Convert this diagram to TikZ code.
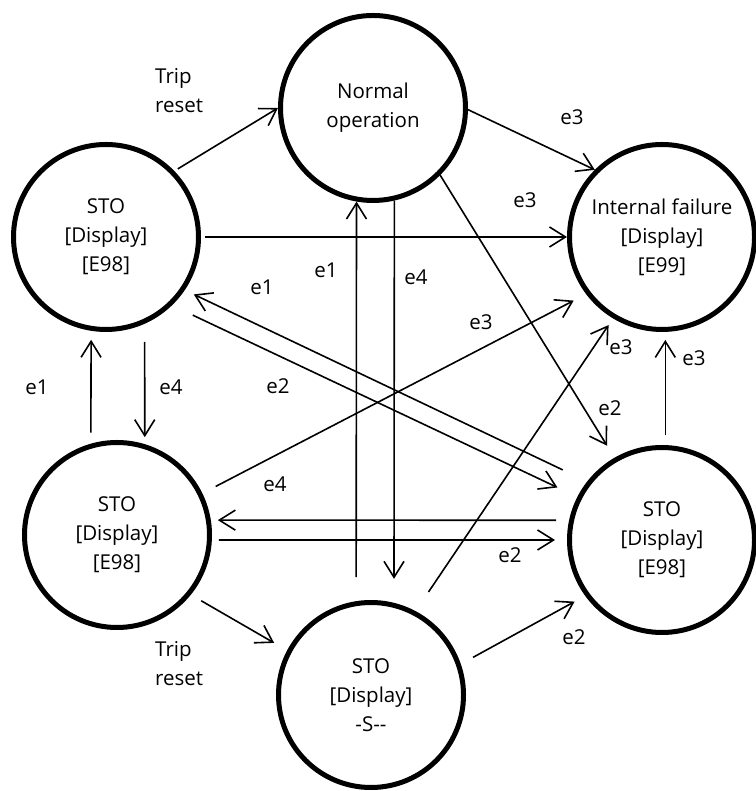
\documentclass[tikz,border=0pt]{standalone}
\usepackage{fontspec}
\setmainfont{Open Sans}
\usetikzlibrary{arrows.meta}
\begin{document}
\begin{tikzpicture}[x=1pt, y=1pt, >={Straight Barb[length=16pt,width=20pt]},
    state/.style={circle, draw, line width=5pt, minimum size=185pt, inner sep=0pt,
        align=center, font=\fontsize{20.5}{29}\selectfont},
    lbl/.style={inner sep=0pt, font=\fontsize{20.5}{29}\selectfont},
    conn/.style={->, line width=1.6pt}]
    \useasboundingbox (0,0) rectangle (755,791);

    \node[state] (N)  at (373,683) {Normal\\operation};
    \node[state] (TL) at (106,554) {STO\\{[Display]}\\{[E98]}};
    \node[state] (IF) at (662,554) {Internal failure\\{[Display]}\\{[E99]}};
    \node[state] (BL) at (117,256) {STO\\{[Display]}\\{[E98]}};
    \node[state] (R)  at (662,251) {STO\\{[Display]}\\{[E98]}};
    \node[state] (B)  at (371,96)  {STO\\{[Display]}\\-S-{}-};

    \draw[conn, shorten <=4pt] (TL.44) -- (N.180);
    \draw[conn] (N.-1) -- (IF.135);
    \draw[conn, shorten <=4pt] (TL.0) -- (IF.180);
    \draw[conn, shorten <=24pt] (B.99) -- (N.260);
    \draw[conn, shorten >=24pt] (N.283) -- (B.76);
    \draw[conn, shorten >=14pt] (N.-45) -- (R.120);
    \draw[conn, shorten <=27pt, shorten >=10pt] (R.142) -- (TL.-34);
    \draw[conn, shorten <=23pt, shorten >=22pt] (TL.-46) -- (R.153);
    \draw[conn, shorten <=15pt, shorten >=14pt] (BL.26) -- (IF.217);
    \draw[conn, shorten <=23pt, shorten >=8pt] (B.62) -- (IF.239);
    \draw[conn, shorten <=10pt, shorten >=8pt] (R.88) -- (IF.272);
    \draw[conn, shorten <=11pt, shorten >=9pt] (BL.106) -- (TL.261);
    \draw[conn, shorten <=18pt, shorten >=7pt] (TL.294) -- (BL.73);
    \draw[conn, shorten <=13pt, shorten >=7pt] (R.168) -- (BL.9);
    \draw[conn, shorten <=7pt, shorten >=12pt] (BL.-3) -- (R.180);
    \draw[conn, shorten <=12pt, shorten >=15pt] (BL.-39) -- (B.152);
    \draw[conn, shorten <=14pt, shorten >=12pt] (B.19) -- (R.216);

    \node[lbl, anchor=west, align=left] (trip1) at (155,700) {Trip\\reset};
    \node[lbl, anchor=west, align=left] (trip2) at (155,127) {Trip\\reset};
    \node[lbl] (e3a) at (572,674) {e3};
    \node[lbl] (e3b) at (525,591) {e3};
    \node[lbl] (e1a) at (326,521) {e1};
    \node[lbl] (e4a) at (416,514) {e4};
    \node[lbl] (e1b) at (262,504) {e1};
    \node[lbl] (e3c) at (481,469) {e3};
    \node[lbl] (e3d) at (621,444) {e3};
    \node[lbl] (e3e) at (694,433) {e3};
    \node[lbl] (e1c) at (37,404)  {e1};
    \node[lbl] (e4b) at (171,404) {e4};
    \node[lbl] (e2a) at (278,405) {e2};
    \node[lbl] (e2b) at (610,383) {e2};
    \node[lbl] (e4c) at (275,307) {e4};
    \node[lbl] (e2c) at (510,236) {e2};
    \node[lbl] (e2d) at (574,154) {e2};
\end{tikzpicture}
\end{document}
